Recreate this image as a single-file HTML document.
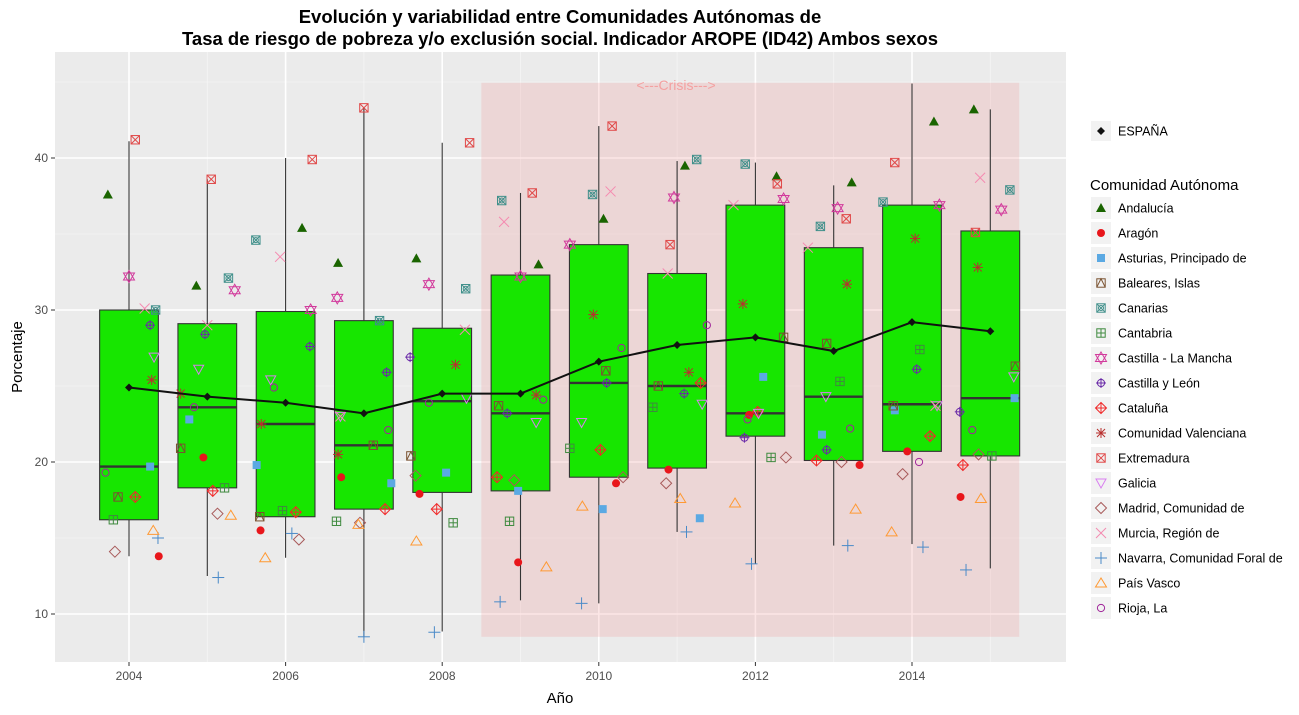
<!DOCTYPE html>
<html><head><meta charset="utf-8"><style>
body{margin:0;background:#fff;}
svg text{font-family:"Liberation Sans",Arial,sans-serif;}
</style></head><body>
<svg id="chart" width="1299" height="710" xmlns="http://www.w3.org/2000/svg">
<rect width="1299" height="710" fill="#fff"/>
<text x="560" y="23" text-anchor="middle" font-size="18.5" font-weight="bold">Evolución y variabilidad entre Comunidades Autónomas de</text>
<text x="560" y="45" text-anchor="middle" font-size="18.5" font-weight="bold">Tasa de riesgo de pobreza y/o exclusión social. Indicador AROPE (ID42) Ambos sexos</text>
<rect x="55" y="52" width="1011" height="610" fill="#ebebeb"/>
<g id="grid"></g>
<g id="crisis"></g>
<g id="boxes"></g>
<g id="points"></g>
<g id="mean"></g>
<g id="axes"></g>
<g id="legend"></g>
<text x="560" y="703" text-anchor="middle" font-size="15">Año</text>
<text transform="translate(22,357) rotate(-90)" text-anchor="middle" font-size="15">Porcentaje</text>
</svg>
<script>
const years=[2004,2005,2006,2007,2008,2009,2010,2011,2012,2013,2014,2015];
const boxQ1=[16.2,18.3,16.4,16.9,18.0,18.1,19.0,19.6,21.7,20.1,20.7,20.4];
const boxMedian=[19.7,23.6,22.5,21.1,24.0,23.2,25.2,25.0,23.2,24.3,23.8,24.2];
const boxQ3=[30.0,29.1,29.9,29.3,28.8,32.3,34.3,32.4,36.9,34.1,36.9,35.2];
const whiskerLow=[13.8,12.5,13.7,8.5,8.85,10.9,10.7,15.4,13.3,14.5,14.6,13.0];
const whiskerHigh=[41.1,38.6,40.0,43.3,41.0,37.7,42.1,39.8,39.7,38.2,44.9,43.2];
const espana=[24.9,24.3,23.9,23.2,24.5,24.5,26.6,27.7,28.2,27.3,29.2,28.6];
const xTicks=[2004,2006,2008,2010,2012,2014];
const yTicks=[10,20,30,40];
const crisisRange=[2008.5,2015.37];
const regions=["Andalucía","Aragón","Asturias, Principado de","Baleares, Islas","Canarias","Cantabria","Castilla - La Mancha","Castilla y León","Cataluña","Comunidad Valenciana","Extremadura","Galicia","Madrid, Comunidad de","Murcia, Región de","Navarra, Comunidad Foral de","País Vasco","Rioja, La"];
const values=[
[37.6,31.6,35.4,33.1,33.4,33.0,36.0,39.5,38.8,38.4,42.4,43.2],
[13.8,20.3,15.5,19.0,17.9,13.4,18.6,19.5,23.1,19.8,20.7,17.7],
[19.7,22.8,19.8,18.6,19.3,18.1,16.9,16.3,25.6,21.8,23.4,24.2],
[17.7,20.9,16.4,21.1,20.4,23.7,26.0,25.0,28.2,27.8,23.7,26.3],
[30.0,32.1,34.6,29.3,31.4,37.2,37.6,39.9,39.6,35.5,37.1,37.9],
[16.2,18.3,16.8,16.1,16.0,16.1,20.9,23.6,20.3,25.3,27.4,20.4],
[32.2,31.3,30.0,30.8,31.7,32.2,34.3,37.4,37.3,36.7,36.9,36.6],
[29.0,28.4,27.6,25.9,26.9,23.2,25.2,24.5,21.6,20.8,26.1,23.3],
[17.7,18.1,16.7,16.9,16.9,19.0,20.8,25.2,23.3,20.1,21.7,19.8],
[25.4,24.5,22.5,20.5,26.4,24.4,29.7,25.9,30.4,31.7,34.7,32.8],
[41.2,38.6,39.9,43.3,41.0,37.7,42.1,34.3,38.3,36.0,39.7,35.1],
[26.9,26.1,25.4,23.0,24.2,22.6,22.6,23.8,23.2,24.3,23.7,25.6],
[14.1,16.6,14.9,16.0,19.1,18.8,19.0,18.6,20.3,20.0,19.2,20.5],
[30.1,29.0,33.5,23.0,28.7,35.8,37.8,32.4,36.9,34.1,23.7,38.7],
[15.0,12.4,15.3,8.5,8.8,10.8,10.7,15.4,13.3,14.5,14.4,12.9],
[15.5,16.5,13.7,15.9,14.8,13.1,17.1,17.6,17.3,16.9,15.4,17.6],
[19.3,23.6,24.9,22.1,23.9,24.1,27.5,29.0,22.8,22.2,20.0,22.1]];
const jitter=[
[-0.27,-0.14,0.21,-0.33,-0.33,0.23,0.06,0.10,0.27,0.23,0.28,-0.21],
[0.38,-0.05,-0.32,-0.29,-0.29,-0.03,0.22,-0.11,-0.08,0.33,-0.06,-0.38],
[0.27,-0.23,-0.37,0.35,0.05,-0.03,0.05,0.29,0.10,-0.15,-0.22,0.31],
[-0.14,-0.34,-0.33,0.12,-0.40,-0.28,0.09,-0.24,0.36,-0.09,-0.24,0.32],
[0.34,0.27,-0.38,0.20,0.30,-0.24,-0.08,0.25,-0.13,-0.17,-0.37,0.25],
[-0.20,0.22,-0.04,-0.35,0.14,-0.14,-0.37,-0.31,0.20,0.08,0.10,0.02],
[0.00,0.35,0.32,-0.34,-0.17,0.00,-0.37,-0.04,0.36,0.05,0.35,0.14],
[0.27,-0.03,0.31,0.29,-0.41,-0.17,0.10,0.09,-0.14,-0.09,0.06,-0.39],
[0.08,0.07,0.13,0.27,-0.07,-0.30,0.02,0.30,0.03,-0.22,0.23,-0.35],
[0.29,-0.34,-0.31,-0.33,0.17,0.20,-0.07,0.15,-0.16,0.17,0.04,-0.16],
[0.08,0.05,0.34,0.00,0.35,0.15,0.17,-0.09,0.28,0.16,-0.22,-0.19],
[0.32,-0.11,-0.19,-0.30,0.31,0.20,-0.22,0.32,0.04,-0.10,0.32,0.30],
[-0.18,0.13,0.17,-0.05,-0.34,-0.08,0.31,-0.14,0.39,0.10,-0.12,-0.15],
[0.20,0.00,-0.07,-0.30,0.29,-0.21,0.15,-0.12,-0.28,-0.33,0.30,-0.13],
[0.37,0.14,0.08,0.00,-0.10,-0.26,-0.22,0.12,-0.05,0.18,0.14,-0.31],
[0.31,0.30,-0.26,-0.07,-0.33,0.33,-0.21,0.04,-0.26,0.28,-0.26,-0.12],
[-0.30,-0.17,-0.15,0.31,-0.17,0.29,0.29,0.38,-0.10,0.21,0.09,-0.23]];
const colors=["#1a6400","#e8161b","#5ba9e3","#7a5230","#3f8f8a","#3f8a3f","#d23a9c","#6a2aa8","#f02a2a","#b8302e","#e04848","#d97ff0","#a85a5a","#f58ab0","#4a8ac8","#ff9933","#a0259a"];

const NS="http://www.w3.org/2000/svg";
const X=y=>129+(y-2004)*78.3;
const Y=v=>614-(v-10)*15.2;
function mk(parent,tag,attrs){const e=document.createElementNS(NS,tag);for(const k in attrs)e.setAttribute(k,attrs[k]);parent.appendChild(e);return e;}
const G=id=>document.getElementById(id);

// grid
const grid=G('grid');
[15,25,35,45].forEach(v=>{const l=mk(grid,'line',{x1:55,x2:1066,y1:Y(v),y2:Y(v),stroke:'#f5f5f5','stroke-width':0.8});

});
[2005,2007,2009,2011,2013,2015].forEach(v=>{const l=mk(grid,'line',{x1:X(v),x2:X(v),y1:52,y2:662,stroke:'#f5f5f5','stroke-width':0.8});

});
yTicks.forEach(v=>{const l=mk(grid,'line',{x1:55,x2:1066,y1:Y(v),y2:Y(v),stroke:'#fff','stroke-width':1.6});

});
xTicks.forEach(v=>{const l=mk(grid,'line',{x1:X(v),x2:X(v),y1:52,y2:662,stroke:'#fff','stroke-width':1.6});

});

// crisis
const cr=G('crisis');
const crect=mk(cr,'rect',{x:X(crisisRange[0]),y:Y(44.95),width:X(crisisRange[1])-X(crisisRange[0]),height:Y(8.5)-Y(44.95),fill:'#f08080','fill-opacity':0.2});


const ct=mk(cr,'text',{x:676,y:90,'text-anchor':'middle','font-size':14,fill:'#f4a0a0'});ct.textContent='<---Crisis--->';



// boxes
const bx=G('boxes');
years.forEach((yr,i)=>{
 const g=mk(bx,'g',{});
 
 
 const cx=X(yr),hw=0.375*78.3;
 mk(g,'line',{x1:cx,x2:cx,y1:Y(whiskerHigh[i]),y2:Y(boxQ3[i]),stroke:'#333','stroke-width':1.1});
 mk(g,'line',{x1:cx,x2:cx,y1:Y(boxQ1[i]),y2:Y(whiskerLow[i]),stroke:'#333','stroke-width':1.1});
 mk(g,'rect',{x:cx-hw,y:Y(boxQ3[i]),width:2*hw,height:Y(boxQ1[i])-Y(boxQ3[i]),fill:'#17e600',stroke:'#333','stroke-width':1.1});
 mk(g,'line',{x1:cx-hw,x2:cx+hw,y1:Y(boxMedian[i]),y2:Y(boxMedian[i]),stroke:'#333','stroke-width':2.4});
});

// shapes
function shape(parent,k,x,y,c){
 const s=4.2;const sw=1;const g=mk(parent,'g',{stroke:c,fill:'none','stroke-width':sw});
 const line=(a,b,cc,d)=>mk(g,'line',{x1:a,y1:b,x2:cc,y2:d});
 const sq=()=>mk(g,'rect',{x:x-s,y:y-s,width:2*s,height:2*s});
 switch(k){
  case 0: mk(g,'polygon',{points:`${x},${y-5} ${x-5},${y+4} ${x+5},${y+4}`,fill:c,stroke:'none'});break;
  case 1: mk(g,'circle',{cx:x,cy:y,r:4,fill:c,stroke:'none'});break;
  case 2: mk(g,'rect',{x:x-4,y:y-4,width:8,height:8,fill:c,stroke:'none'});break;
  case 3: sq();mk(g,'polyline',{points:`${x-s},${y+s} ${x},${y-s} ${x+s},${y+s}`});break;
  case 4: sq();line(x-s,y-s,x+s,y+s);line(x-s,y+s,x+s,y-s);mk(g,'circle',{cx:x,cy:y,r:2.5});break;
  case 5: sq();line(x-s,y,x+s,y);line(x,y-s,x,y+s);break;
  case 6: mk(g,'polygon',{points:`${x},${y-6} ${x-5.5},${y+3.5} ${x+5.5},${y+3.5}`});mk(g,'polygon',{points:`${x},${y+6} ${x-5.5},${y-3.5} ${x+5.5},${y-3.5}`});break;
  case 7: mk(g,'circle',{cx:x,cy:y,r:3.6});line(x-5,y,x+5,y);line(x,y-5,x,y+5);break;
  case 8: mk(g,'polygon',{points:`${x},${y-5.5} ${x+5.5},${y} ${x},${y+5.5} ${x-5.5},${y}`});line(x-5.5,y,x+5.5,y);line(x,y-5.5,x,y+5.5);break;
  case 9: line(x-5,y,x+5,y);line(x,y-5,x,y+5);line(x-4,y-4,x+4,y+4);line(x-4,y+4,x+4,y-4);break;
  case 10: sq();line(x-s,y-s,x+s,y+s);line(x-s,y+s,x+s,y-s);break;
  case 11: mk(g,'polygon',{points:`${x-5},${y-4} ${x+5},${y-4} ${x},${y+5}`});break;
  case 12: mk(g,'polygon',{points:`${x},${y-5.5} ${x+5.5},${y} ${x},${y+5.5} ${x-5.5},${y}`});break;
  case 13: line(x-5,y-5,x+5,y+5);line(x-5,y+5,x+5,y-5);break;
  case 14: line(x-6,y,x+6,y);line(x,y-6,x,y+6);break;
  case 15: mk(g,'polygon',{points:`${x},${y-5} ${x-5.5},${y+4} ${x+5.5},${y+4}`});break;
  case 16: mk(g,'circle',{cx:x,cy:y,r:3.6});break;
 }
 return g;
}

// points
const pts=G('points');
regions.forEach((r,k)=>{
 const g=mk(pts,'g',{});
 
 
 years.forEach((yr,i)=>{
  const p=shape(g,k,X(yr+jitter[k][i]),Y(values[k][i]),colors[k]);
  
  
 });
});

// mean line
const mg=G('mean');
const pl=mk(mg,'polyline',{points:years.map((yr,i)=>X(yr)+','+Y(espana[i])).join(' '),fill:'none',stroke:'#111','stroke-width':2});


years.forEach((yr,i)=>{const d=mk(mg,'polygon',{points:`${X(yr)},${Y(espana[i])-4} ${X(yr)+4},${Y(espana[i])} ${X(yr)},${Y(espana[i])+4} ${X(yr)-4},${Y(espana[i])}`,fill:'#111'});

});

// axes
const ax=G('axes');
xTicks.forEach(v=>{mk(ax,'line',{x1:X(v),x2:X(v),y1:662,y2:666,stroke:'#333'});
const t=mk(ax,'text',{x:X(v),y:680,'text-anchor':'middle','font-size':12,fill:'#4d4d4d'});t.textContent=v;

});
yTicks.forEach(v=>{mk(ax,'line',{x1:51,x2:55,y1:Y(v),y2:Y(v),stroke:'#333'});
const t=mk(ax,'text',{x:48,y:Y(v)+4,'text-anchor':'end','font-size':12,fill:'#4d4d4d'});t.textContent=v;

});

// legend
const lg=G('legend');
const eg=mk(lg,'g',{});


mk(eg,'rect',{x:1091,y:121,width:20,height:20,fill:'#f2f2f2'});
mk(eg,'polygon',{points:'1101,127 1105,131 1101,135 1097,131',fill:'#111'});
const et=mk(eg,'text',{x:1118,y:135.5,'font-size':12.5});et.textContent='ESPAÑA';
const lt=mk(lg,'text',{x:1090,y:190,'font-size':15});lt.textContent='Comunidad Autónoma';


regions.forEach((r,k)=>{
 const yy=208+k*25;
 const g=mk(lg,'g',{});
 
 
 mk(g,'rect',{x:1091,y:yy-11,width:20,height:22,fill:'#f2f2f2'});
 shape(g,k,1101,yy,colors[k]);
 const t=mk(g,'text',{x:1118,y:yy+4.5,'font-size':12.5});t.textContent=r;
});
</script>
</body></html>
